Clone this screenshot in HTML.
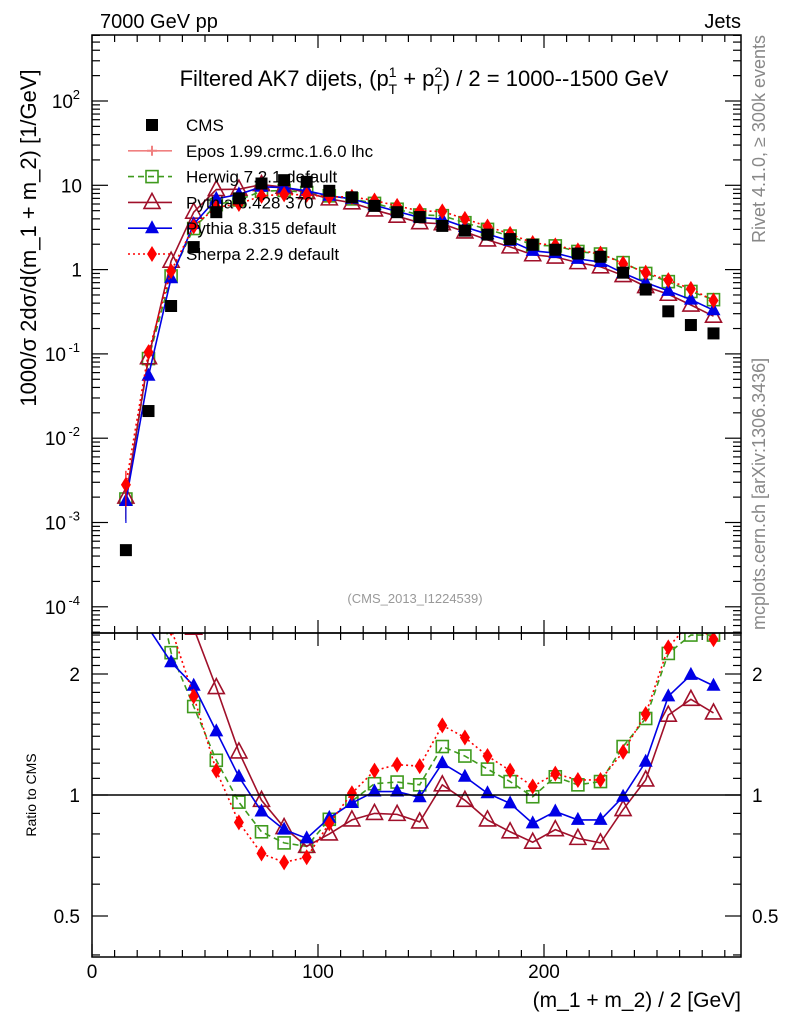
<!DOCTYPE html>
<html><head><meta charset="utf-8">
<style>
html,body{margin:0;padding:0;background:#fff;}
svg{display:block;font-family:"Liberation Sans",Arial,sans-serif;}
</style></head>
<body>
<svg id="chart" width="786" height="1024" viewBox="0 0 786 1024" xmlns="http://www.w3.org/2000/svg">
<defs>
<clipPath id="clipMain"><rect x="92" y="35" width="649" height="598"/></clipPath>
<clipPath id="clipRatio"><rect x="92" y="633" width="649" height="324"/></clipPath>
</defs>
<rect x="0" y="0" width="786" height="1024" fill="#fff"/>
<g id="ratioLayer" clip-path="url(#clipRatio)"></g>
<g id="mainLayer" clip-path="url(#clipMain)"></g>
<rect x="92" y="35" width="649" height="598" fill="none" stroke="#000" stroke-width="1.5"/>
<rect x="92" y="633" width="649" height="324" fill="none" stroke="#000" stroke-width="1.5"/>
<line x1="92" y1="795" x2="741" y2="795" stroke="#000" stroke-width="1.5"/>
<g id="axisLayer"></g>
<text x="100" y="28" font-size="20">7000 GeV pp</text>
<text x="741" y="28" font-size="20" text-anchor="end">Jets</text>
<text x="424" y="86" font-size="22" text-anchor="middle">Filtered AK7 dijets, (p<tspan font-size="14" dy="-9">1</tspan><tspan font-size="14" dx="-8" dy="17">T</tspan><tspan dy="-8"> + p</tspan><tspan font-size="14" dy="-9">2</tspan><tspan font-size="14" dx="-8" dy="17">T</tspan><tspan dy="-8">) / 2 = 1000--1500 GeV</tspan></text>
<text x="415" y="603" font-size="13" fill="#999" text-anchor="middle">(CMS_2013_I1224539)</text>
<text transform="translate(36,238) rotate(-90)" font-size="22" text-anchor="middle">1000/σ  2dσ/d(m_1 + m_2) [1/GeV]</text>
<text transform="translate(36,795) rotate(-90)" font-size="14" text-anchor="middle">Ratio to CMS</text>
<text x="741" y="1007" font-size="21" text-anchor="end">(m_1 + m_2) / 2 [GeV]</text>
<text transform="translate(765,35) rotate(-90)" font-size="18" fill="#888" text-anchor="end">Rivet 4.1.0, ≥ 300k events</text>
<text transform="translate(765,630) rotate(-90)" font-size="18" fill="#888">mcplots.cern.ch [arXiv:1306.3436]</text>
<g id="legend"></g>
</svg>
<script>
const xCenters = [15,25,35,45,55,65,75,85,95,105,115,125,135,145,155,165,175,185,195,205,215,225,235,245,255,265,275];
const cmsValues = [4.7e-4,0.021,0.37,1.85,4.8,7.0,10.5,11.5,11.0,8.6,7.2,5.7,4.8,4.2,3.3,2.9,2.6,2.3,1.97,1.72,1.55,1.42,0.92,0.58,0.32,0.22,0.175];
const herwigValues = [1.9e-3,0.088,0.84,3.07,5.9,6.7,8.5,8.7,8.2,7.5,6.9,6.1,5.2,4.45,4.36,3.6,3.0,2.5,1.95,1.91,1.64,1.53,1.21,0.90,0.72,0.55,0.44];
const pythia6Values = [2.0e-3,0.09,1.26,4.8,8.9,9.0,10.2,9.5,8.2,6.9,6.2,5.1,4.3,3.6,3.5,2.8,2.25,1.86,1.50,1.41,1.21,1.08,0.85,0.63,0.51,0.38,0.28];
const pythia8Values = [1.8e-3,0.055,0.79,3.46,6.9,7.8,9.6,9.4,8.6,7.5,6.9,5.8,4.9,4.15,3.96,3.2,2.63,2.19,1.67,1.57,1.34,1.23,0.91,0.70,0.56,0.44,0.33];
const sherpaValues = [2.8e-3,0.105,0.96,3.26,5.5,6.0,7.5,7.8,7.7,7.3,7.3,6.6,5.7,4.96,4.9,4.0,3.25,2.65,2.07,1.94,1.69,1.55,1.18,0.92,0.75,0.59,0.43];
const herwigRatio = [4.0,4.2,2.26,1.66,1.22,0.96,0.81,0.76,0.745,0.87,0.965,1.067,1.077,1.06,1.32,1.25,1.16,1.08,0.99,1.11,1.06,1.08,1.32,1.55,2.25,2.50,2.50];
const pythia6Ratio = [4.2,4.3,3.4,2.6,1.85,1.28,0.97,0.83,0.745,0.80,0.867,0.90,0.895,0.857,1.06,0.97,0.867,0.81,0.763,0.82,0.78,0.76,0.92,1.09,1.58,1.73,1.60];
const pythia8Ratio = [3.8,2.6,2.14,1.87,1.44,1.11,0.91,0.82,0.78,0.877,0.955,1.02,1.02,0.987,1.20,1.11,1.01,0.953,0.85,0.91,0.867,0.867,0.99,1.21,1.76,1.99,1.87];
const sherpaRatio = [6.0,5.0,2.6,1.76,1.15,0.855,0.715,0.68,0.70,0.85,1.01,1.15,1.19,1.18,1.49,1.39,1.25,1.15,1.05,1.13,1.09,1.09,1.28,1.59,2.33,2.7,2.44];
const mainTickExps = [-4,-3,-2,-1,0,1,2];
const mainTickLabels = ["10","10","10","10","1","10","10"];
const mainTickSups = ["-4","-3","-2","-1","","","2"];
const ratioTicks = [0.5,1,2];
const ratioTickLabels = ["0.5","1","2"];
const xTicks = [0,100,200];
const xTickLabels = ["0","100","200"];

const NS = "http://www.w3.org/2000/svg";
function xs(v){return 92 + 2.26*v;}
function ym(v){return 101 - 84.3*(Math.log10(v)-2);}
function yr(r){return 795 - 121*Math.log2(r);}
function mk(tag, attrs, parent){const e=document.createElementNS(NS,tag);for(const k in attrs)e.setAttribute(k,attrs[k]);parent.appendChild(e);return e;}

const axis = document.getElementById('axisLayer');
for(let v=0; v<=280; v+=10){
  const major = v%100===0;
  const L = major?13:7;
  [[957,-1],[633,1],[633,-1],[35,1]].forEach(([y0,d])=>{
    const t = mk('line',{x1:xs(v),x2:xs(v),y1:y0,y2:y0+d*L,stroke:'#000','stroke-width':1.2},axis);
    
    
  });
}
xTicks.forEach((v,i)=>{
  const t = mk('text',{x:xs(v),y:978,'font-size':19,'text-anchor':'middle'},axis);
  t.textContent = xTickLabels[i];
  
  
});
for(let e=-5;e<=2;e++){
  for(let m=1;m<=9;m++){
    const v=m*Math.pow(10,e); const y=ym(v);
    if(y<35||y>633) continue;
    const L = m===1?16:8;
    [[92,1],[741,-1]].forEach(([x0,d])=>{
      const t = mk('line',{x1:x0,x2:x0+d*L,y1:y,y2:y,stroke:'#000','stroke-width':1.2},axis);
      
      
    });
  }
}
mainTickExps.forEach((e,i)=>{
  const y = ym(Math.pow(10,e));
  const t = mk('text',{x:mainTickSups[i]?80-(mainTickSups[i].length*7):82,y:y+7,'font-size':19,'text-anchor':'end'},axis);
  t.textContent = mainTickLabels[i];
  
  
  if(mainTickSups[i]){
    const s = mk('text',{x:80,y:y-2,'font-size':13,'text-anchor':'end'},axis);
    s.textContent = mainTickSups[i];
    
    
  }
});
for(let k=4;k<=25;k++){
  const r=k/10; const y=yr(r);
  if(y<633||y>957) continue;
  const L = (k===5||k===10||k===20)?16:8;
  [[92,1],[741,-1]].forEach(([x0,d])=>{
    const t = mk('line',{x1:x0,x2:x0+d*L,y1:y,y2:y,stroke:'#000','stroke-width':1.2},axis);
    
    
  });
}
ratioTicks.forEach((r,i)=>{
  const y=yr(r);
  const a = mk('text',{x:80,y:y+7,'font-size':19,'text-anchor':'end'},axis);
  a.textContent = ratioTickLabels[i];
  
  
  const b = mk('text',{x:752,y:y+7,'font-size':19},axis);
  b.textContent = ratioTickLabels[i];
  
  
});

function marker(type,color,x,y,parent,name){
  let e;
  if(type==='square') e=mk('rect',{x:x-6,y:y-6,width:12,height:12,fill:color},parent);
  else if(type==='osquare') e=mk('rect',{x:x-6,y:y-6,width:12,height:12,fill:'#fff','fill-opacity':0,stroke:color,'stroke-width':1.6},parent);
  else if(type==='otri') e=mk('polygon',{points:`${x},${y-9} ${x-8},${y+6} ${x+8},${y+6}`,fill:'none',stroke:color,'stroke-width':1.6},parent);
  else if(type==='tri') e=mk('polygon',{points:`${x},${y-8} ${x-7},${y+5} ${x+7},${y+5}`,fill:color},parent);
  else if(type==='diamond') e=mk('polygon',{points:`${x},${y-8} ${x-5},${y} ${x},${y+8} ${x+5},${y}`,fill:color},parent);
  else if(type==='cross') e=mk('path',{d:`M${x-5},${y}h10M${x},${y-5}v10`,stroke:color,'stroke-width':2,fill:'none'},parent);
  
  
  return e;
}

const series = [
  {name:'herwig',vals:herwigValues,ratio:herwigRatio,color:'#3f9a1d',dash:'6,4',m:'osquare'},
  {name:'pythia6',vals:pythia6Values,ratio:pythia6Ratio,color:'#a0102a',dash:'',m:'otri'},
  {name:'pythia8',vals:pythia8Values,ratio:pythia8Ratio,color:'#0000e6',dash:'',m:'tri'},
  {name:'sherpa',vals:sherpaValues,ratio:sherpaRatio,color:'#ff0000',dash:'2,3',m:'diamond'}
];
const mainL = document.getElementById('mainLayer');
const ratioL = document.getElementById('ratioLayer');
series.forEach(s=>{
  const g = mk('g',{},mainL);
  
  
  const pts = xCenters.map((x,i)=>xs(x)+','+ym(s.vals[i])).join(' ');
  const pl = mk('polyline',{points:pts,fill:'none',stroke:s.color,'stroke-width':1.6,'stroke-dasharray':s.dash},g);
  
  
  xCenters.forEach((x,i)=>marker(s.m,s.color,xs(x),ym(s.vals[i]),g,s.name+'-point'));
  const gr = mk('g',{},ratioL);
  
  
  const pr = xCenters.map((x,i)=>xs(x)+','+yr(s.ratio[i])).join(' ');
  const rl = mk('polyline',{points:pr,fill:'none',stroke:s.color,'stroke-width':1.6,'stroke-dasharray':s.dash},gr);
  
  
  xCenters.forEach((x,i)=>marker(s.m,s.color,xs(x),yr(s.ratio[i]),gr,s.name+'-ratio-point'));
});
series.forEach(s=>{
  const y=ym(s.vals[0]);
  const eb = mk('line',{x1:xs(xCenters[0]),x2:xs(xCenters[0]),y1:y-14,y2:y+22,stroke:s.color,'stroke-width':1.2},mainL);
  
  
});
const cg = mk('g',{},mainL);


xCenters.forEach((x,i)=>marker('square','#000',xs(x),ym(cmsValues[i]),cg,'cms-point'));

const leg = document.getElementById('legend');
const legItems = [
  {label:'CMS',m:'square',color:'#000',dash:null},
  {label:'Epos 1.99.crmc.1.6.0 lhc',m:'cross',color:'#f08080',dash:''},
  {label:'Herwig 7.2.1 default',m:'osquare',color:'#3f9a1d',dash:'6,4'},
  {label:'Pythia 6.428 370',m:'otri',color:'#a0102a',dash:''},
  {label:'Pythia 8.315 default',m:'tri',color:'#0000e6',dash:''},
  {label:'Sherpa 2.2.9 default',m:'diamond',color:'#ff0000',dash:'2,3'}
];
legItems.forEach((it,i)=>{
  const y = 125 + i*25.8;
  const g = mk('g',{},leg);
  
  
  if(it.dash!==null){
    const l = mk('line',{x1:128,x2:172,y1:y,y2:y,stroke:it.color,'stroke-width':1.6,'stroke-dasharray':it.dash},g);
    
    
  }
  marker(it.m,it.color,152,y,g,'legend-marker');
  const t = mk('text',{x:186,y:y+6,'font-size':17},g);
  t.textContent = it.label;
  
  
});
</script>
</body></html>
